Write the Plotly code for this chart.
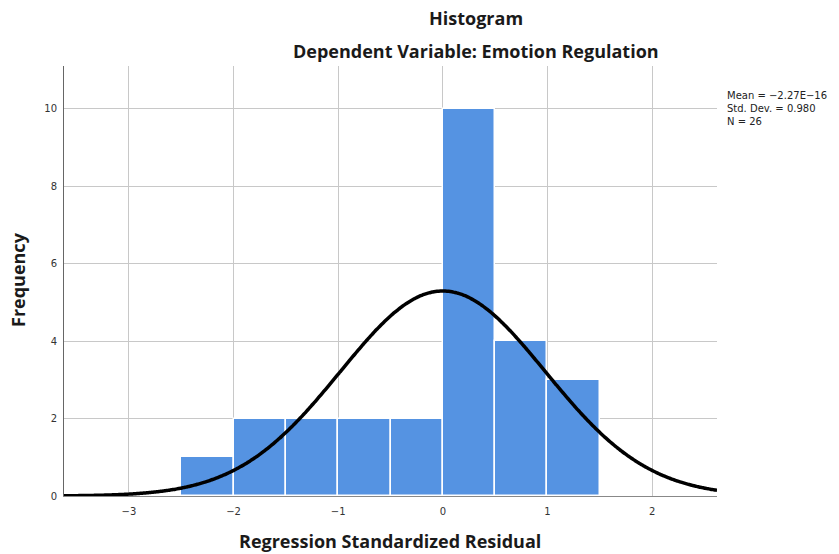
import numpy as np
import plotly.graph_objects as go

# Data
bin_left = [-2.5, -2.0, -1.5, -1.0, -0.5, 0.0, 0.5, 1.0]
counts = [1, 2, 2, 2, 2, 10, 4, 3]
bin_width = 0.5
mean_val = -2.27e-16
sd_val = 0.980
n_val = 26
x_ticks = [-3, -2, -1, 0, 1, 2]
y_ticks = [0, 2, 4, 6, 8, 10]

centers = [b + bin_width / 2 for b in bin_left]

xs = np.linspace(-3.62, 2.62, 400)
ys = n_val * bin_width * np.exp(-0.5 * ((xs - mean_val) / sd_val) ** 2) / (sd_val * np.sqrt(2 * np.pi))

fig = go.Figure()
fig.add_trace(go.Bar(
    x=centers, y=counts, width=[bin_width] * len(counts),
    marker=dict(color="#5593E2", line=dict(color="white", width=1.5)),
    showlegend=False, hoverinfo="skip",
))
fig.add_trace(go.Scatter(
    x=xs, y=ys, mode="lines", line=dict(color="black", width=3.5, shape="spline"),
    showlegend=False, hoverinfo="skip",
))

L, R, T, B = 64, 717, 66, 496
W, H = R - L, B - T


def px(x):
    return (x - L) / W


def py(y):
    return (B - y) / H


tick_font = dict(family="DejaVu Sans", size=10, color="#333333")
title_font = dict(family="Open Sans", size=18, color="#1a1a1a")
fig.update_layout(
    width=839, height=554,
    margin=dict(l=L, r=839 - R, t=T, b=554 - B, autoexpand=False),
    paper_bgcolor="white", plot_bgcolor="white",
    bargap=0,
    xaxis=dict(
        range=[-3.62, 2.62], tickvals=x_ticks,
        ticktext=["\u22123", "\u22122", "\u22121", "0", "1", "2"],
        showgrid=True, gridcolor="#C8C8C8", gridwidth=1,
        zeroline=False, showline=True, linecolor="#888888", linewidth=1,
        ticks="", tickfont=tick_font, ticklabelstandoff=6, automargin=False,
    ),
    yaxis=dict(
        range=[0, 11.1], tickvals=y_ticks,
        showgrid=True, gridcolor="#C8C8C8", gridwidth=1,
        zeroline=False, showline=True, linecolor="#666666", linewidth=1,
        ticks="", tickfont=tick_font, ticklabelstandoff=4, automargin=False,
    ),
    annotations=[
        dict(text="<b>Histogram</b>", xref="paper", yref="paper",
             x=px(476), y=py(18), xanchor="center", yanchor="middle",
             showarrow=False, font=title_font),
        dict(text="<b>Dependent Variable: Emotion Regulation</b>", xref="paper", yref="paper",
             x=px(476), y=py(51), xanchor="center", yanchor="middle",
             showarrow=False, font=title_font),
        dict(text="<b>Regression Standardized Residual</b>", xref="paper", yref="paper",
             x=px(390), y=py(541), xanchor="center", yanchor="middle",
             showarrow=False, font=title_font),
        dict(text="<b>Frequency</b>", xref="paper", yref="paper",
             x=px(18), y=py(280), xanchor="center", yanchor="middle", textangle=-90,
             showarrow=False, font=title_font),
        dict(text="Mean = \u22122.27E\u221216<br>Std. Dev. = 0.980<br>N = 26",
             xref="paper", yref="paper", x=px(725), y=py(88),
             xanchor="left", yanchor="top", align="left", showarrow=False,
             font=dict(family="DejaVu Sans", size=10, color="#222222")),
    ],
)

fig.write_html("out.html")
